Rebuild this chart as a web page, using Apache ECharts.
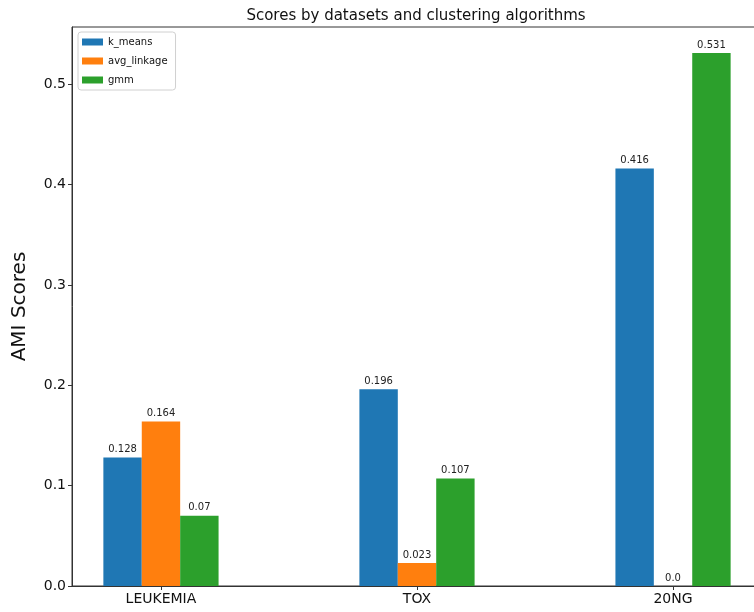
<!DOCTYPE html>
<html>
<head>
<meta charset="utf-8">
<script src="https://cdn.jsdelivr.net/npm/echarts@6/dist/echarts.min.js"></script>
<style>
  html, body { margin: 0; padding: 0; background: #fff; overflow: hidden; }
  #main { width: 772px; height: 612px; }
</style>
</head>
<body>
<div id="main"></div>
<script>
var datasets = ['LEUKEMIA', 'TOX', '20NG'];
var kMeans = [0.128, 0.196, 0.416];
var avgLinkage = [0.164, 0.023, 0.0];
var gmm = [0.07, 0.107, 0.531];
var yTicks = [0, 0.1, 0.2, 0.3, 0.4, 0.5];

// the original figure is cropped on the right, so the chart is drawn a bit wider than the window
var chartDom = document.getElementById('main');
var myChart = echarts.init(chartDom);
var font = 'DejaVu Sans';

function toPoints(values) {
  return values.map(function (v, i) {
    return [i, v];
  });
}

function makeSeries(name, values, color) {
  return {
    name: name,
    type: 'bar',
    data: toPoints(values),
    barWidth: 38.4,
    barGap: '0%',
    itemStyle: { color: color },
    label: {
      show: true,
      position: 'top',
      distance: 3,
      color: '#222',
      fontFamily: font,
      fontSize: 10,
      formatter: function (p) {
        var v = p.value[1];
        return v === 0 ? '0.0' : String(v);
      }
    }
  };
}

var option = {
  animation: false,
  title: {
    text: 'Scores by datasets and clustering algorithms',
    left: 411,
    textAlign: 'center',
    top: 4,
    textStyle: { fontFamily: font, fontSize: 15, fontWeight: 'normal', color: '#111' }
  },
  legend: {
    orient: 'vertical',
    left: 78,
    top: 32,
    padding: [5, 8, 5, 4],
    icon: 'rect',
    itemWidth: 21,
    itemHeight: 7,
    itemGap: 9,
    borderColor: '#d0d0d0',
    borderWidth: 1,
    borderRadius: 3,
    textStyle: { fontFamily: font, fontSize: 10, color: '#111' },
    data: ['k_means', 'avg_linkage', 'gmm']
  },
  grid: {
    left: 72,
    right: 10,
    top: 27,
    bottom: 26,
    show: true,
    borderColor: '#333',
    borderWidth: 1
  },
  xAxis: {
    type: 'value',
    min: -0.3475,
    max: 2.3475,
    splitLine: { show: false },
    axisLine: { show: true, onZero: false, lineStyle: { color: '#333' } },
    axisTick: { show: true, length: 4, customValues: [0, 1, 2], lineStyle: { color: '#333' } },
    axisLabel: {
      customValues: [0, 1, 2],
      fontFamily: font,
      fontSize: 14,
      color: '#111',
      margin: 6,
      formatter: function (v) { return datasets[Math.round(v)]; }
    }
  },
  yAxis: {
    type: 'value',
    min: 0,
    max: 0.557,
    name: 'AMI Scores',
    nameLocation: 'middle',
    nameGap: 42,
    nameTextStyle: { fontFamily: font, fontSize: 20, color: '#111' },
    splitLine: { show: false },
    axisLine: { show: true, onZero: false, lineStyle: { color: '#333' } },
    axisTick: { show: true, length: 4, customValues: yTicks, lineStyle: { color: '#333' } },
    axisLabel: {
      customValues: yTicks,
      fontFamily: font,
      fontSize: 14,
      color: '#111',
      margin: 6,
      formatter: function (v) { return v.toFixed(1); }
    }
  },
  series: [
    makeSeries('k_means', kMeans, '#1f77b4'),
    makeSeries('avg_linkage', avgLinkage, '#ff7f0e'),
    makeSeries('gmm', gmm, '#2ca02c')
  ]
};

myChart.setOption(option);
</script>
</body>
</html>
